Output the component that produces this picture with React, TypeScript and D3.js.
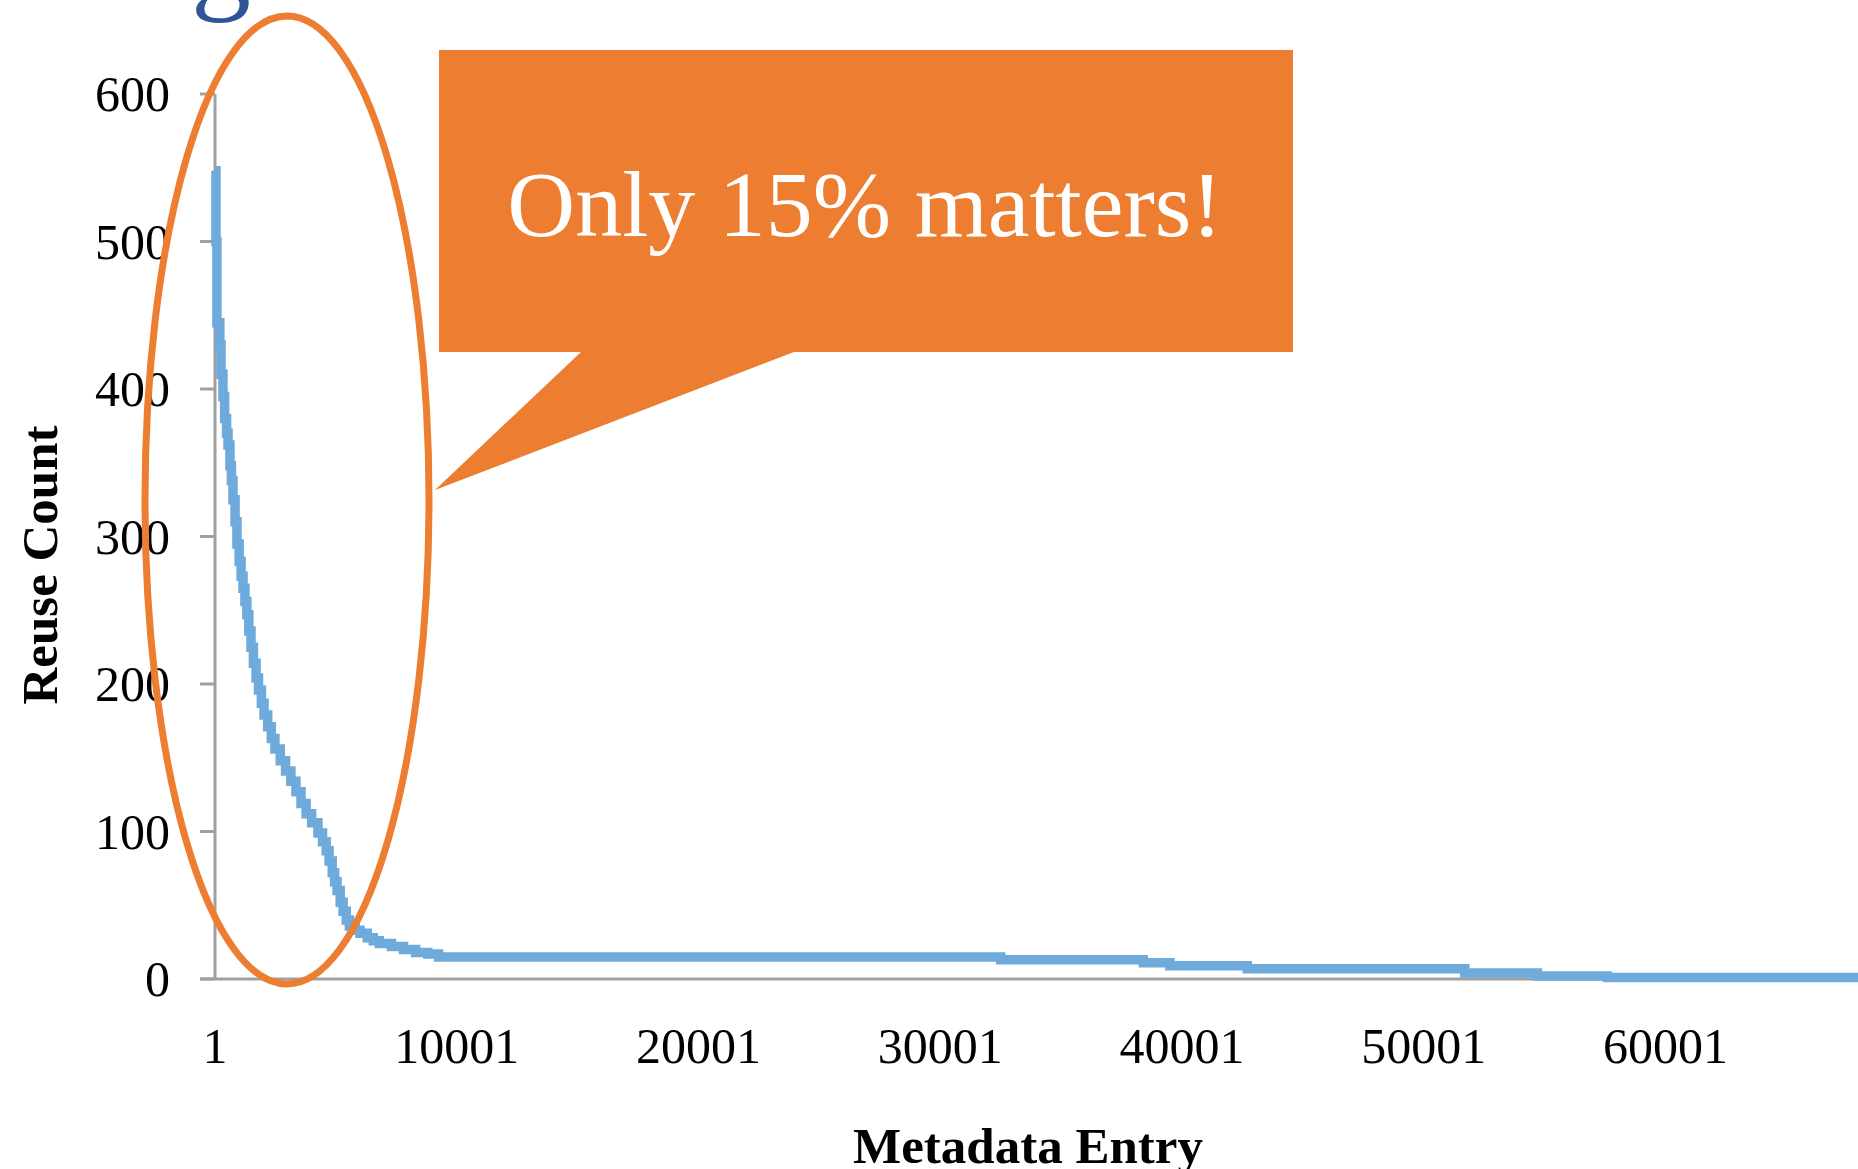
import * as d3 from "d3";
import { useEffect, useRef } from "react";

// sorted reuse counts, as step starts (entry index -> count)
const entryStart = [
  1, 40, 80, 200, 250, 330, 400, 480, 540, 620, 680, 745, 830, 910, 1000, 1080,
  1160, 1240, 1320, 1400, 1490, 1590, 1700, 1800, 1920, 2030, 2180, 2330, 2480,
  2700, 2920, 3140, 3350, 3560, 3770, 4000, 4260, 4450, 4600, 4720, 4850, 4950,
  5050, 5180, 5300, 5430, 5560, 5800, 6000, 6300, 6550, 6800, 7300, 7800, 8300,
  8800, 9250, 32500, 38400, 39500, 42700, 51700, 54700, 57600, 70001,
];
const reuseCount = [
  548, 500, 445, 430, 410, 395, 380, 370, 362, 348, 338, 325, 310, 295, 283,
  273, 265, 256, 247, 236, 225, 214, 204, 196, 187, 179, 171, 163, 156, 148,
  141, 134, 127, 119, 112, 106, 99, 93, 87, 80, 72, 66, 60, 52, 46, 40, 36, 33,
  31, 28, 26, 24, 22, 20, 18, 17, 15, 13, 11, 9, 7, 4, 2, 1, 1,
];
const xTicks = [1, 10001, 20001, 30001, 40001, 50001, 60001];
const yTicks = [0, 100, 200, 300, 400, 500, 600];
const calloutText = "Only 15% matters!";

const App = () => {
  const svgRef = useRef<SVGSVGElement>(null);

  useEffect(() => {
    const svg = d3.select(svgRef.current);
    svg.selectAll("*").remove();

    const width = 1858;
    const height = 1169;
    svg.attr("width", width).attr("height", height);

    const x = d3.scaleLinear().domain([1, 70001]).range([215, 215 + 7 * 241.75]);
    const y = d3.scaleLinear().domain([0, 600]).range([979, 94]);

    const axisColor = "#a0a0a0";
    const font = "'Liberation Serif', 'Times New Roman', serif";

    // cut-off title glyph at the top
    svg
      .append("text")
      .attr("x", 191)
      .attr("y", -3)
      .attr("font-family", font)
      .attr("font-size", 120)
      .attr("fill", "#2f5597")
      .text("g");

    // y axis
    svg
      .append("line")
      .attr("x1", x(1))
      .attr("x2", x(1))
      .attr("y1", y(600))
      .attr("y2", y(0))
      .attr("stroke", axisColor)
      .attr("stroke-width", 3);

    svg
      .selectAll(".ytick")
      .data(yTicks)
      .enter()
      .append("line")
      .attr("x1", 200)
      .attr("x2", x(1))
      .attr("y1", (d) => y(d))
      .attr("y2", (d) => y(d))
      .attr("stroke", axisColor)
      .attr("stroke-width", 3);

    svg
      .selectAll(".ylabel")
      .data(yTicks)
      .enter()
      .append("text")
      .attr("x", 170)
      .attr("y", (d) => y(d) + 17)
      .attr("text-anchor", "end")
      .attr("font-family", font)
      .attr("font-size", 50)
      .attr("fill", "#000")
      .text((d) => d);

    // x axis
    svg
      .append("line")
      .attr("x1", 200)
      .attr("x2", width)
      .attr("y1", y(0))
      .attr("y2", y(0))
      .attr("stroke", axisColor)
      .attr("stroke-width", 3);

    svg
      .selectAll(".xlabel")
      .data(xTicks)
      .enter()
      .append("text")
      .attr("x", (d) => x(d))
      .attr("y", 1063)
      .attr("text-anchor", "middle")
      .attr("font-family", font)
      .attr("font-size", 50)
      .attr("fill", "#000")
      .text((d) => d);

    // axis titles
    svg
      .append("text")
      .attr("x", 1028)
      .attr("y", 1163)
      .attr("text-anchor", "middle")
      .attr("font-family", font)
      .attr("font-weight", "bold")
      .attr("font-size", 51)
      .text("Metadata Entry");

    svg
      .append("text")
      .attr("transform", "translate(57,565) rotate(-90)")
      .attr("text-anchor", "middle")
      .attr("font-family", font)
      .attr("font-weight", "bold")
      .attr("font-size", 51)
      .text("Reuse Count");

    // reuse curve
    const points: [number, number][] = entryStart.map((e, i) => [e, reuseCount[i]]);
    const line = d3
      .line<[number, number]>()
      .x((d) => x(d[0]))
      .y((d) => y(d[1]))
      .curve(d3.curveStepAfter);

    svg
      .append("path")
      .attr("d", line(points) as string)
      .attr("fill", "none")
      .attr("stroke", "#6eaadc")
      .attr("stroke-width", 9.5);

    // highlight ellipse
    svg
      .append("ellipse")
      .attr("cx", 287)
      .attr("cy", 500)
      .attr("rx", 142)
      .attr("ry", 484)
      .attr("fill", "none")
      .attr("stroke", "#ed7d31")
      .attr("stroke-width", 7);

    // callout
    svg
      .append("path")
      .attr(
        "d",
        "M439,50 L1293,50 L1293,352 L794,352 L435,490 L581,352 L439,352 Z"
      )
      .attr("fill", "#ed7d31");

    svg
      .append("text")
      .attr("x", 865)
      .attr("y", 236)
      .attr("text-anchor", "middle")
      .attr("font-family", font)
      .attr("font-size", 94)
      .attr("fill", "#fff")
      .text(calloutText);
  }, []);

  return (
    <svg
      ref={svgRef}
      style={{ position: "absolute", left: 0, top: 0, background: "#fff" }}
    ></svg>
  );
};

export default App;
